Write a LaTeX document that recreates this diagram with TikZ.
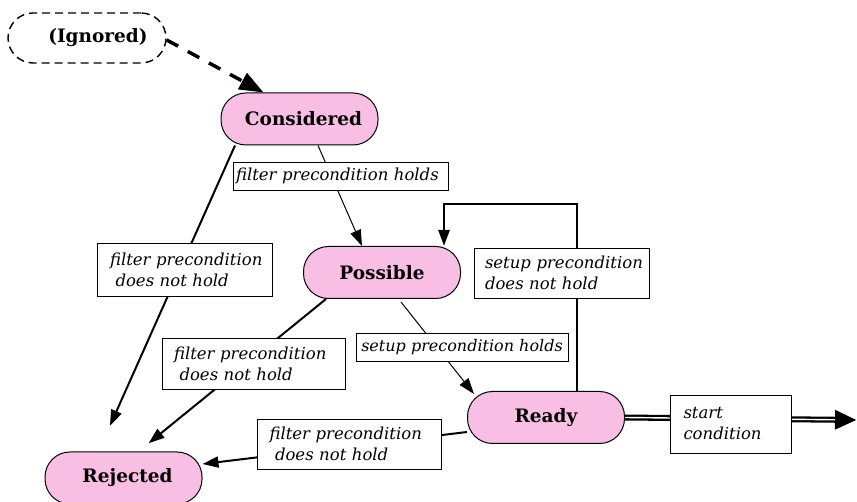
\documentclass[tikz,border=0pt]{standalone}
\usepackage{fontspec}
\setmainfont{DejaVu Serif}
\usetikzlibrary{arrows.meta,calc}
\definecolor{statepink}{RGB}{249,190,228}
\begin{document}
\begin{tikzpicture}[x=1pt,y=-1pt,
  state/.style={draw, line width=1pt, fill=statepink, rounded corners=25pt,
    minimum width=157pt, minimum height=52pt, inner sep=0pt,
    font=\bfseries\fontsize{18.5}{22}\selectfont},
  lbl/.style={draw, fill=white, line width=0.8pt, align=left, inner sep=3pt,
    font=\itshape\fontsize{16.5}{21}\selectfont},
  tip/.style={-{Triangle[length=16pt,width=11pt]}},
  thin edge/.style={tip, line width=1pt},
  thick edge/.style={tip, line width=2pt}]
\useasboundingbox (0,0) rectangle (857,502);

% states
\node[state, draw=black, fill=white, line width=1.4pt, dash pattern=on 8pt off 5pt,
      minimum width=158pt, minimum height=50pt] (ign) at (87,38) {\hspace{22pt}(Ignored)};
\node[state] (cons) at (299.5,119) {\hspace{8pt}Considered};
\node[state] (poss) at (382,272.5) {Possible};
\node[state] (ready) at (546,417.5) {Ready};
\node[state] (rej) at (123.5,478) {\hspace{8pt}Rejected};

\coordinate (looptop) at (0,204);
\coordinate (exit) at (857,420);

% transitions
\draw[line width=3.5pt, dash pattern=on 13pt off 11pt,
      -{Triangle[length=24pt,width=18pt]}]
  ([yshift=-2pt]ign.east) -- ([xshift=-36pt]cons.north);
\draw[thin edge] ([xshift=18.5pt]cons.south) -- ([xshift=-20pt]poss.north);
\draw[thick edge, shorten >=28pt] ([xshift=-64.5pt]cons.south) -- ([xshift=-25pt]rej.north);
\draw[thick edge, shorten >=13pt] ([xshift=-56pt]poss.south) -- ([xshift=15pt]rej.north);
\draw[thin edge] ([xshift=19pt,yshift=-3pt]poss.south) -- ([xshift=-72pt,yshift=-3pt]ready.north);
\draw[thick edge, line width=2.5pt] ([xshift=31pt]ready.north) -- ([xshift=31pt]ready.north |- looptop)
  -| ([xshift=62pt]poss.north);
\draw[thick edge] ([yshift=-14.5pt]ready.west) -- ([yshift=14pt]rej.east);
\draw[line width=6pt, -{Triangle[length=22pt,width=18pt]}] (ready.east) -- (exit);
\draw[white, line width=1.4pt, shorten >=22pt] (ready.east) -- (exit);

% transition labels
\node[lbl, minimum width=215pt, minimum height=28pt, text width=209pt] (l1) at (340.5,176)
  {filter precondition holds};
\node[lbl, minimum width=175pt, minimum height=53pt, text width=160pt] (l2) at (184.5,269.5)
  {\ filter precondition\\\ \ does not hold};
\node[lbl, minimum width=175pt, minimum height=50pt, text width=165pt] (l3) at (562,273)
  {\ setup precondition\\\ does not hold};
\node[lbl, minimum width=183pt, minimum height=51pt, text width=170pt] (l4) at (253.5,363.5)
  {\ filter precondition\\\ \ does not hold};
\node[lbl, minimum width=212pt, minimum height=28pt, inner xsep=1pt,
      font=\itshape\fontsize{16}{21}\selectfont] (l5) at (462,347)
  {setup precondition holds};
\node[lbl, minimum width=184pt, minimum height=50pt, text width=170pt] (l6) at (349,444)
  {\ filter precondition\\\ \ does not hold};
\node[lbl, minimum width=121pt, minimum height=58pt, text width=105pt] (l7) at (730.5,424)
  {\ start\\\ condition};
\end{tikzpicture}
\end{document}
